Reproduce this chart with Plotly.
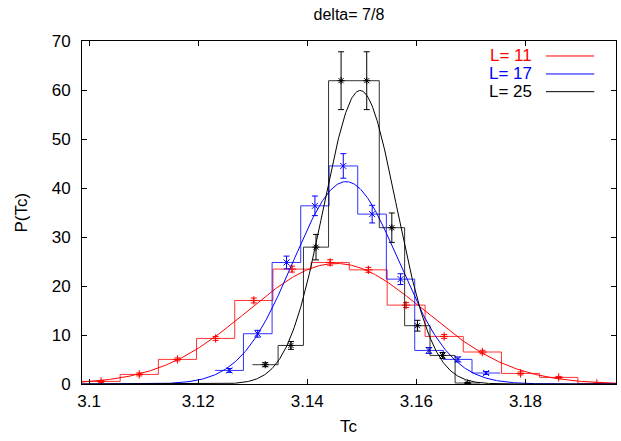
import numpy as np
import plotly.graph_objects as go

# Histogram of the pseudo-critical temperature Tc, one series per lattice size L.
# Bin centres, normalised bin heights P(Tc) and their statistical errors.
tc_l11 = [3.1022, 3.1092, 3.1162, 3.1232, 3.1302, 3.1372, 3.1442,
          3.1512, 3.1581, 3.1651, 3.1721, 3.1791, 3.1861, 3.1931]
p_l11 = [0.53, 1.96, 5.02, 9.3, 17.05, 23.45, 24.8,
         23.3, 16.1, 9.71, 6.53, 2.16, 1.35, 0.12]
err_l11 = [0.2, 0.3, 0.3, 0.4, 0.5, 0.6, 0.55,
           0.5, 0.5, 0.4, 0.35, 0.3, 0.2, 0.1]

tc_l17 = [3.1257, 3.1309, 3.1362, 3.1414, 3.1466,
          3.1519, 3.1571, 3.1623, 3.1676, 3.1728]
p_l17 = [2.77, 10.26, 24.8, 36.36, 44.5,
         34.67, 21.4, 6.85, 5.02, 2.24]
err_l17 = [0.4, 0.7, 1.3, 2.0, 2.5,
           1.8, 1.1, 0.6, 0.5, 0.3]

tc_l25 = [3.1323, 3.1370, 3.1416, 3.1462, 3.1509,
          3.1555, 3.1602, 3.1648, 3.1694]
p_l25 = [3.94, 7.87, 27.93, 61.9, 61.9,
         31.9, 11.9, 5.83, 0.2]
err_l25 = [0.4, 0.8, 2.6, 5.9, 5.9,
           3.0, 1.1, 0.6, 0.1]

# Normalised Gaussian fits: (mean, sigma)
fit_l11 = (3.1453, 0.01622)
fit_l17 = (3.1471, 0.00966)
fit_l25 = (3.1497, 0.00666)

series_labels = ["L= 11", "L= 17", "L= 25"]
x_ticks = [3.1, 3.12, 3.14, 3.16, 3.18]
x_ticktext = ["3.1", "3.12", "3.14", "3.16", "3.18"]
y_ticks = [0, 10, 20, 30, 40, 50, 60, 70]
title_text = "delta= 7/8"

colors = ["#ff0000", "#0000ff", "#000000"]
symbols = ["cross-thin", "x-thin", "asterisk"]

# x range spans the outer edges of the L=11 histogram
half_bin = (tc_l11[1] - tc_l11[0]) / 2
x_lo = tc_l11[0] - half_bin
x_hi = tc_l11[-1] + half_bin


def histeps(x, y):
    """Extend the step outline half a bin beyond the first and last centres."""
    x = list(x)
    y = list(y)
    h0 = (x[1] - x[0]) / 2
    h1 = (x[-1] - x[-2]) / 2
    return [x[0] - h0] + x + [x[-1] + h1], [y[0]] + y + [y[-1]]


def gauss(x, mu, sigma):
    return np.exp(-(x - mu) ** 2 / (2 * sigma ** 2)) / (sigma * np.sqrt(2 * np.pi))


fig = go.Figure()
xs = np.linspace(x_lo, x_hi, 600)

data = [
    (tc_l11, p_l11, err_l11, fit_l11),
    (tc_l17, p_l17, err_l17, fit_l17),
    (tc_l25, p_l25, err_l25, fit_l25),
]

for (tc, p, err, fit), col, sym in zip(data, colors, symbols):
    hx, hy = histeps(tc, p)
    fig.add_trace(go.Scatter(x=hx, y=hy, mode="lines", line=dict(color=col, width=1, shape="hvh"),
                             opacity=0.8, showlegend=False, hoverinfo="skip"))
    fig.add_trace(go.Scatter(x=tc, y=p, mode="markers",
                             marker=dict(symbol=sym, size=6, color=col, line=dict(color=col, width=1)),
                             error_y=dict(type="data", array=err, color=col, thickness=1, width=3),
                             showlegend=False))
    mu, sigma = fit
    fig.add_trace(go.Scatter(x=xs, y=gauss(xs, mu, sigma), mode="lines",
                             line=dict(color=col, width=1), showlegend=False))

# Key in the top-right corner: right-aligned label followed by a line sample
key_rows = [0.9563, 0.9039, 0.8523]
annotations = []
shapes = []
for label, col, yrow in zip(series_labels, colors, key_rows):
    annotations.append(dict(x=0.8464, y=yrow, xref="paper", yref="paper", text=label,
                            showarrow=False, xanchor="right", yanchor="middle",
                            font=dict(color=col)))
    shapes.append(dict(type="line", xref="paper", yref="paper", x0=0.8689, x1=0.9593,
                       y0=yrow, y1=yrow, line=dict(color=col, width=1)))

annotations.append(dict(x=0.4997, y=-0.1244, xref="paper", yref="paper", text="Tc",
                        showarrow=False, xanchor="center", yanchor="middle"))
annotations.append(dict(x=-0.113, y=0.499, xref="paper", yref="paper", text="P(Tc)",
                        showarrow=False, xanchor="center", yanchor="middle", textangle=-90))

axis_common = dict(showline=True, linecolor="black", linewidth=1, mirror="ticks",
                   ticks="inside", ticklen=5, tickwidth=1, tickcolor="black",
                   showgrid=False, zeroline=False)

fig.update_layout(
    width=621, height=441,
    margin=dict(l=82.3, r=5, t=41, b=56.7),
    paper_bgcolor="white", plot_bgcolor="white",
    font=dict(family="Liberation Sans, Arial, sans-serif", size=17, color="black"),
    title=dict(text=title_text, x=0.5619, xanchor="center", y=1 - 14 / 441, yanchor="middle",
               font=dict(size=16)),
    xaxis=dict(range=[x_lo, x_hi], tickvals=x_ticks, ticktext=x_ticktext,
               ticklabelstandoff=2, **axis_common),
    yaxis=dict(range=[0, 70], tickvals=y_ticks, ticklabelstandoff=7, **axis_common),
    annotations=annotations,
    shapes=shapes,
    showlegend=False,
)

fig.write_html("out.html")
